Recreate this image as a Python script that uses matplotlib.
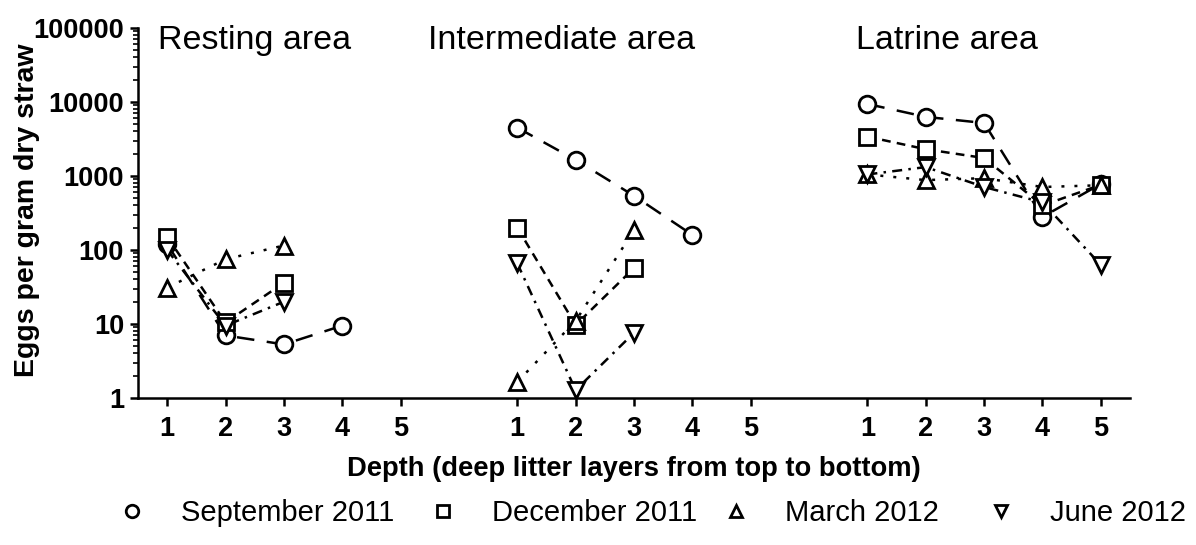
import numpy as np
import matplotlib.pyplot as plt
from matplotlib.lines import Line2D
from matplotlib import font_manager

nan = np.nan

# depth layers and where each area sits on the shared x axis
depth = [1, 2, 3, 4, 5]
area_offsets = [0, 6, 12]
area_names = ["Resting area", "Intermediate area", "Latrine area"]

# eggs per gram dry straw, one list per area (resting, intermediate, latrine)
sep_2011 = [[120, 7, 5.3, 9.5, nan],
            [4500, 1650, 540, 160, nan],
            [9400, 6300, 5200, 280, 780]]
dec_2011 = [[150, 10.5, 36, nan, nan],
            [200, 9.7, 57, nan, nan],
            [3400, 2300, 1750, 400, 760]]
mar_2012 = [[31, 75, 115, nan, nan],
            [1.65, 11, 185, nan, nan],
            [1050, 880, 935, 710, 750]]
jun_2012 = [[100, 9.5, 20, nan, nan],
            [66, 1.28, 7.6, nan, nan],
            [1050, 1320, 710, 440, 63]]

series = [
    ("September 2011", sep_2011, "o", (0, (7, 5))),
    ("December 2011", dec_2011, "s", (0, (3.5, 2.5))),
    ("March 2012", mar_2012, "^", (0, (1.2, 4))),
    ("June 2012", jun_2012, "v", (0, (4, 2.5, 1, 2.5))),
]

plt.rcParams['font.family'] = ['Liberation Sans', 'DejaVu Sans']

try:
    font_manager.findfont("Liberation Sans Narrow", fallback_to_default=False)
    legend_font = {"family": ["Liberation Sans Narrow", "Liberation Sans"], "size": 24}
except Exception:
    legend_font = {"family": ["Liberation Sans", "DejaVu Sans"], "size": 21}

fig = plt.figure(figsize=(11.96, 5.45), dpi=100)
ax = fig.add_axes([138 / 1196, 1 - 398 / 545, 992 / 1196, 370 / 545])

lw = 1.8
for name, data, marker, ls in series:
    for off, vals in zip(area_offsets, data):
        x = np.array(depth) + off
        ax.plot(x, vals, color="black", lw=lw, linestyle=ls,
                dash_capstyle="butt", zorder=2)
for name, data, marker, ls in series:
    for off, vals in zip(area_offsets, data):
        x = np.array(depth) + off
        ax.plot(x, vals, linestyle="none", marker=marker, ms=12,
                mfc="white", mec="black", mew=2, zorder=3)

ax.set_yscale("log")
ax.set_ylim(1, 100000)
ax.set_xlim(0.5, 17.5)

yt = [1, 10, 100, 1000, 10000, 100000]
ax.set_yticks(yt)
ax.set_yticklabels([str(v) for v in yt])
xt = [d + o for o in area_offsets for d in depth]
ax.set_xticks(xt)
ax.set_xticklabels([str(d) for o in area_offsets for d in depth])

for s in ["top", "right"]:
    ax.spines[s].set_visible(False)
for s in ["left", "bottom"]:
    ax.spines[s].set_linewidth(lw)

ax.tick_params(axis="both", which="major", direction="out", length=6,
               width=lw, labelsize=19.5, pad=4)
ax.tick_params(axis="y", which="minor", direction="out", length=3.5, width=1.2)
ax.tick_params(axis="x", pad=7)
for lab in ax.get_xticklabels() + ax.get_yticklabels():
    lab.set_fontweight("bold")

title_x = [0.84, 5.47, 12.8]
for tx, name in zip(title_x, area_names):
    ax.text(tx, (398 - 49) / 370, name, transform=ax.get_xaxis_transform(),
            fontsize=24.5, ha="left", va="baseline")

fig.text(27 / 1196, 1 - 210 / 545, "Eggs per gram dry straw", rotation=90,
         ha="center", va="center", fontsize=20.5, fontweight="bold")
fig.text(634 / 1196, 1 - 469 / 545, "Depth (deep litter layers from top to bottom)",
         ha="center", va="center", fontsize=19.7, fontweight="bold")

# legend: one entry each, placed along the bottom
legend_left = [117, 428, 721, 986]
for (name, data, marker, ls), lx in zip(series, legend_left):
    h = Line2D([], [], linestyle="none", marker=marker, ms=9, mfc="white",
               mec="black", mew=2)
    fig.legend([h], [name], loc="center left",
               bbox_to_anchor=(lx / 1196, 1 - 513 / 545), frameon=False,
               handlelength=1.0, handletextpad=1.2, borderpad=0,
               borderaxespad=0, prop=legend_font)

fig.savefig("out.png", dpi=100)
